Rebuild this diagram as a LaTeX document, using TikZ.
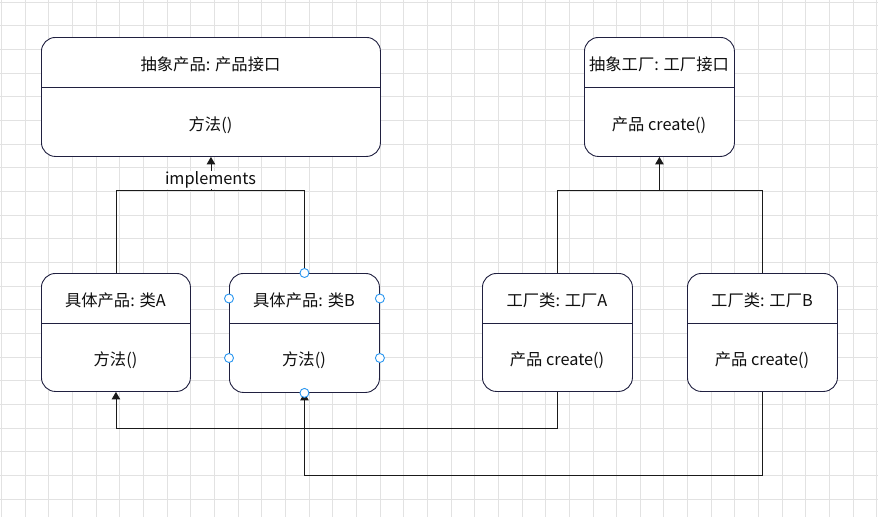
\documentclass[tikz,border=0pt]{standalone}
\usepackage{fontspec}
\setmainfont{Noto Sans CJK SC}
\usetikzlibrary{arrows.meta}
\definecolor{gridc}{RGB}{226,226,226}
\definecolor{boxc}{RGB}{32,32,64}
\definecolor{linec}{RGB}{26,26,26}
\definecolor{handlecol}{RGB}{41,150,240}
\definecolor{txt}{RGB}{15,15,15}
\begin{document}
\begin{tikzpicture}[x=1pt,y=-1pt,
  gridline/.style={draw=gridc,line width=0.8pt},
  umlbox/.style={draw=boxc,line width=0.9pt,rounded corners=14pt,fill=white,anchor=north west,inner sep=0pt},
  divider/.style={draw=boxc,line width=0.9pt},
  lbl/.style={font=\fontsize{16.3}{19}\selectfont,text=txt,inner sep=0pt},
  conn/.style={draw=linec,line width=0.9pt},
  arr/.style={conn,-{Triangle[length=7.5pt,width=8.5pt]}},
  handlec/.style={circle,draw=handlecol,fill=white,line width=0.9pt,minimum size=9pt,inner sep=0pt}]
\useasboundingbox (0,0) rectangle (878,517);
\fill[white] (0,0) rectangle (878,517);
\foreach \i in {0,...,37} {\draw[gridline] (1.4+23.66*\i,0) -- (1.4+23.66*\i,517);}
\foreach \j in {0,...,22} {\draw[gridline] (0,2+23.67*\j) -- (878,2+23.67*\j);}

\coordinate (jn) at (0,190);
\coordinate (l1) at (0,428);
\coordinate (l2) at (0,475);

% product interface
\node[umlbox,minimum width=339pt,minimum height=119pt] (ip) at (41,37) {};
\draw[divider] ([yshift=-50pt]ip.north west) -- ([yshift=-50pt]ip.north east);
\node[lbl] (ipt) at (210.5,64) {抽象产品: 产品接口};
\node[lbl] (ipb) at (210.5,125) {方法()};

% factory interface
\node[umlbox,minimum width=150pt,minimum height=119pt] (fi) at (584,37) {};
\draw[divider] ([yshift=-50pt]fi.north west) -- ([yshift=-50pt]fi.north east);
\node[lbl] (fit) at (659,64) {抽象工厂: 工厂接口};
\node[lbl] (fib) at (659,125) {产品 create()};

% concrete products
\node[umlbox,minimum width=149pt,minimum height=118pt] (ca) at (41,273) {};
\draw[divider] ([yshift=-50pt]ca.north west) -- ([yshift=-50pt]ca.north east);
\node[lbl] (cat) at (115.5,300) {具体产品: 类A};
\node[lbl] (cab) at (115.5,360) {方法()};

\node[umlbox,minimum width=150pt,minimum height=119pt] (cb) at (229,273) {};
\draw[divider] ([yshift=-50pt]cb.north west) -- ([yshift=-50pt]cb.north east);
\node[lbl] (cbt) at (304,300) {具体产品: 类B};
\node[lbl] (cbb) at (304,360) {方法()};

% concrete factories
\node[umlbox,minimum width=150pt,minimum height=118pt] (fa) at (482,273) {};
\draw[divider] ([yshift=-50pt]fa.north west) -- ([yshift=-50pt]fa.north east);
\node[lbl] (fat) at (557,300) {工厂类: 工厂A};
\node[lbl] (fab) at (557,360) {产品 create()};

\node[umlbox,minimum width=150pt,minimum height=118pt] (fb) at (687,273) {};
\draw[divider] ([yshift=-50pt]fb.north west) -- ([yshift=-50pt]fb.north east);
\node[lbl] (fbt) at (762,300) {工厂类: 工厂B};
\node[lbl] (fbb) at (762,360) {产品 create()};

% connectors
\draw[conn] (ca.north) -- (ca.north |- jn) -| (cb.north);
\draw[arr] (ip.south |- jn) -- (ip.south);
\node[lbl,fill=white,inner sep=1pt] (impl) at (210.5,180) {implements};

\draw[conn] (fa.north) -- (fa.north |- jn) -| (fb.north);
\draw[arr] (fi.south |- jn) -- (fi.south);

\draw[arr] (fa.south) -- (fa.south |- l1) -| (ca.south);
\draw[arr] (fb.south) -- (fb.south |- l2) -| (cb.south);

% selection handles on class B
\node[handlec] (h1) at (cb.north) {};
\node[handlec] (h2) at (cb.south) {};
\node[handlec] (h3) at (cb.west |- 0,298.5) {};
\node[handlec] (h4) at (cb.east |- 0,298.5) {};
\node[handlec] (h5) at (cb.west |- 0,358) {};
\node[handlec] (h6) at (cb.east |- 0,358) {};
\end{tikzpicture}
\end{document}
